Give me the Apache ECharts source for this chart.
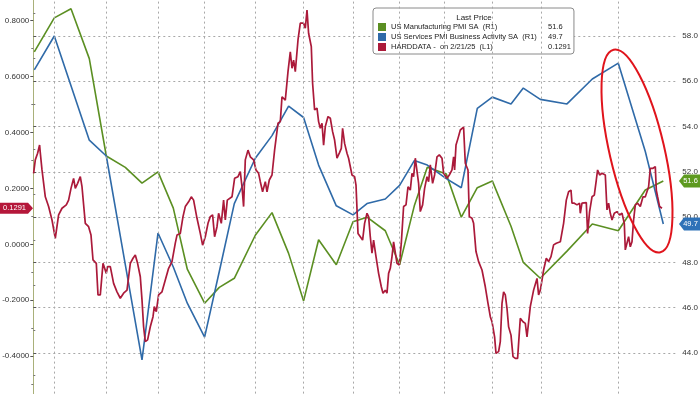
<!DOCTYPE html>
<html><head><meta charset="utf-8">
<script src="https://cdn.jsdelivr.net/npm/echarts@6.0.0/dist/echarts.min.js"></script>
<style>html,body{margin:0;padding:0;background:#fff}#c{width:700px;height:394px}</style>
</head><body><div id="c"></div>
<script>
// ---- data (x = observation index along the hidden time axis) ----
const months = ['Feb-22','Mar-22','Apr-22','May-22','Jun-22','Jul-22','Aug-22','Sep-22','Oct-22','Nov-22','Dec-22',
  'Jan-23','Feb-23','Mar-23','Apr-23','May-23','Jun-23','Jul-23','Aug-23','Sep-23','Oct-23','Nov-23','Dec-23',
  'Jan-24','Feb-24','Mar-24','Apr-24','May-24','Jun-24','Jul-24','Aug-24','Sep-24','Oct-24','Nov-24','Dec-24',
  'Jan-25','Feb-25'];
const monthObs = [1,21,37.7,56,73,92,108.7,124.7,140,154,171.3,
  186,201,222,238.7,255.3,270.3,285.3,303,319.7,333.7,352,366.3,
  381,394,413,428,444,459,477.7,490,507,533.7,559,585,
  612,630];
const mfgPMI = [57.3,58.8,59.2,57.0,52.7,52.2,51.5,52.0,50.4,47.7,46.2,
  46.9,47.3,49.2,50.2,48.4,46.3,49.0,47.9,49.8,50.0,49.4,47.9,
  50.5,52.2,51.9,50.0,51.3,51.6,49.6,48.0,47.3,48.5,49.7,49.4,
  51.2,51.6];
const svcPMI = [56.5,58.0,55.8,53.4,52.7,47.9,43.7,49.3,47.8,46.2,44.7,
  47.6,50.6,52.6,53.6,54.9,54.4,52.3,50.5,50.1,50.6,50.8,51.4,
  52.5,52.3,51.7,51.3,54.8,55.3,55.0,55.7,55.2,55.0,56.1,56.8,
  52.9,49.7];
const hardData = [[0.3,0.254],[2,0.302],[4.3,0.326],[6.3,0.355],[7,0.327],[8.7,0.266],[10.3,0.260],[12,0.170],[15.3,0.135],[18.7,0.087],[22,0.021],[25.3,0.105],[28.7,0.129],[33,0.141],[35.3,0.158],[37.7,0.200],[40.3,0.236],[42,0.200],[44.3,0.218],[47,0.242],[48.7,0.206],[52,0.075],[55.3,0.063],[57.7,0.033],[59.7,-0.056],[63,-0.068],[64.7,-0.181],[67,-0.181],[69.7,-0.068],[71,-0.062],[73,-0.104],[74.3,-0.080],[77,-0.080],[80.3,-0.140],[83.7,-0.170],[87,-0.193],[90.3,-0.175],[93.7,-0.164],[97,-0.068],[99.7,-0.050],[102,-0.038],[104.3,-0.068],[107,-0.116],[108.7,-0.199],[110.3,-0.295],[112,-0.348],[114.3,-0.342],[117,-0.295],[119.7,-0.259],[121,-0.223],[123,-0.241],[125.3,-0.181],[128.7,-0.170],[132,-0.128],[135.3,-0.086],[138.7,-0.062],[142,0.004],[143.7,0.033],[147,0.039],[149.7,0.099],[152,0.135],[155.3,0.152],[158,0.170],[160.3,0.158],[163.7,0.093],[167,0.039],[169.3,-0.003],[172,0.027],[174.7,0.075],[177,0.099],[179.3,0.105],[181.3,0.027],[183.7,0.063],[185.3,0.111],[188,0.075],[190.3,0.158],[192,0.087],[194,0.158],[196,0.152],[198.7,0.170],[201.3,0.236],[204.7,0.242],[207,0.260],[208.7,0.206],[210.3,0.135],[212,0.302],[214.7,0.337],[217,0.313],[220.3,0.302],[222.7,0.266],[225.3,0.254],[227,0.224],[229.3,0.188],[232,0.224],[233.7,0.188],[236,0.230],[238.7,0.248],[241.3,0.337],[244.7,0.433],[247,0.439],[248.7,0.528],[252,0.516],[254.7,0.618],[257,0.689],[258.7,0.630],[260.3,0.659],[262,0.618],[264.7,0.731],[267,0.791],[270.3,0.791],[272,0.773],[273.7,0.838],[275.3,0.755],[278,0.707],[279.3,0.576],[281.3,0.481],[283.7,0.487],[285.3,0.439],[287,0.415],[288.7,0.433],[290.3,0.355],[292,0.421],[294.7,0.457],[297,0.451],[299.3,0.403],[301.3,0.373],[303.7,0.308],[306,0.326],[308,0.343],[309.3,0.415],[311.3,0.361],[313.7,0.326],[315.3,0.308],[317,0.308],[318.7,0.248],[321.3,0.242],[322.7,0.212],[324.7,0.039],[327,0.027],[329.3,0.015],[331.3,0.075],[333.7,0.111],[335.3,0.099],[337,0.027],[338.7,-0.032],[340.3,0.015],[342.7,-0.044],[345.3,-0.104],[348,-0.152],[349.7,-0.175],[352,-0.164],[353.7,-0.175],[355.3,-0.104],[357,-0.086],[358.7,-0.044],[360.3,0.009],[362,0.009],[363.7,-0.068],[366,-0.074],[368,0.004],[370.3,0.135],[372.7,0.141],[374.7,0.206],[377,0.194],[378.7,0.254],[380.3,0.242],[382,0.308],[383.7,0.308],[385.3,0.218],[387,0.117],[389.3,0.141],[391.3,0.200],[393.7,0.242],[395.3,0.224],[397,0.284],[399.3,0.218],[401.3,0.248],[403.7,0.313],[406,0.320],[408.7,0.308],[410.3,0.254],[413.7,0.236],[416,0.248],[418.7,0.266],[420.3,0.313],[421.3,0.266],[422.7,0.355],[424.7,0.379],[427,0.409],[430.3,0.419],[432,0.290],[434.7,0.266],[436,0.099],[438.7,0.093],[440.3,0.075],[442.7,-0.026],[445.3,-0.062],[448.7,-0.092],[452,-0.152],[454.7,-0.211],[457,-0.259],[458.7,-0.277],[461.3,-0.331],[462.7,-0.390],[465.3,-0.384],[467,-0.348],[468.7,-0.211],[470.3,-0.170],[472,-0.181],[473.7,-0.229],[475.3,-0.295],[477.7,-0.325],[479.7,-0.402],[482,-0.408],[484.3,-0.408],[487,-0.265],[489.7,-0.277],[492,-0.283],[493.7,-0.331],[495.3,-0.336],[497,-0.223],[498.7,-0.223],[500.3,-0.164],[502,-0.157],[503.7,-0.122],[505.3,-0.181],[507,-0.164],[508.7,-0.128],[510.3,-0.092],[513,-0.050],[515.3,-0.062],[517.7,-0.044],[520.3,-0.002],[523,0.004],[527,0.009],[530.3,0.075],[533,0.158],[535.3,0.188],[537.7,0.194],[538.7,0.147],[541,0.147],[543.7,0.141],[546.3,0.147],[547,0.111],[548.7,0.147],[550.3,0.152],[553,0.149],[554.3,0.039],[556.3,0.117],[558.7,0.170],[561,0.176],[563,0.230],[564.3,0.266],[566.3,0.248],[568.7,0.254],[572,0.248],[573.7,0.123],[575.3,0.147],[577,0.111],[578.7,0.087],[581,0.111],[583.7,0.117],[586.3,0.105],[588.7,0.111],[591,0.075],[592,-0.020],[593.7,-0.014],[595.3,0.027],[597,-0.009],[598.7,0.009],[600.3,0.087],[602,0.141],[604.3,0.147],[607,0.135],[609.7,0.170],[612,0.170],[613.7,0.176],[615.3,0.206],[617,0.272],[619.7,0.272],[622,0.278],[623,0.194],[624.3,0.170],[626.3,0.135],[628.7,0.1291]];
const quarterObs = [21,73,125,171,222,270,320,366,411,459,508,585];
const obsRange = [0, 645];
const leftRange = [-0.6, 1.0], leftStep = 0.2;
const rightRange = [40, 62], rightStep = 2;
const names = ['US Manufacturing PMI SA  (R1)', 'US Services PMI Business Activity SA  (R1)', 'HARDDATA -  on 2/21/25  (L1)'];
const lastVals = ['51.6', '49.7', '0.1291'];

// ---- styling ----
const FONT = 'Liberation Sans';
const C_MFG = '#5b8f22', C_SVC = '#2f6aa8', C_HARD = '#ab1a3a';
const dotted = {type: [2, 3], color: '#a8a8a8', width: 1};

const chart = echarts.init(document.getElementById('c'), null, {renderer: 'canvas'});
const lastMap = {}; names.forEach((n, i) => lastMap[n] = lastVals[i]);

const option = {
  animation: false,
  backgroundColor: '#ffffff',
  textStyle: {fontFamily: FONT},
  grid: [
    {left: 33.3, right: 21.7, top: -35.2, bottom: -18, outerBoundsMode: 'none', containLabel: false},
    {left: 33.3, right: 21.7, top: -54.6, bottom: -49.6, outerBoundsMode: 'none', containLabel: false}
  ],
  xAxis: [
    {type: 'value', gridIndex: 0, min: obsRange[0], max: obsRange[1], show: false},
    {type: 'value', gridIndex: 1, min: obsRange[0], max: obsRange[1], show: false}
  ],
  yAxis: [
    {type: 'value', gridIndex: 0, position: 'left', min: leftRange[0], max: leftRange[1], interval: leftStep,
      axisLine: {show: true, lineStyle: {color: '#c9a0b4', width: 1}},
      axisTick: {show: true, length: 3, lineStyle: {color: '#555'}},
      minorTick: {show: true, splitNumber: 2, length: 2, lineStyle: {color: '#777'}},
      splitLine: {show: false},
      axisLabel: {margin: 4, fontSize: 8, color: '#333', fontFamily: FONT,
        showMinLabel: true, showMaxLabel: true,
        formatter: v => (Math.abs(v) < 1e-9 ? 0 : v).toFixed(4)}},
    {type: 'value', gridIndex: 1, position: 'right', min: rightRange[0], max: rightRange[1], interval: rightStep,
      axisLine: {show: true, lineStyle: {color: '#a9b07a', width: 1}},
      axisTick: {show: true, length: 3, lineStyle: {color: '#555'}},
      minorTick: {show: true, splitNumber: 2, length: 2, lineStyle: {color: '#777'}},
      splitLine: {show: true, lineStyle: dotted},
      axisLabel: {margin: 4, fontSize: 8, color: '#333', fontFamily: FONT,
        formatter: v => v.toFixed(1)}}
  ],
  legend: {
    data: names, orient: 'vertical', left: 373, top: 8,
    padding: [15, 3, 3, 5], itemGap: 2, itemWidth: 8, itemHeight: 8, icon: 'rect',
    backgroundColor: '#ffffff', borderColor: '#8a8a8a', borderWidth: 1, borderRadius: 3,
    selectedMode: false,
    textStyle: {fontSize: 7.5, fontFamily: FONT, color: '#222',
      rich: {n: {width: 157, fontSize: 7.5, fontFamily: FONT, color: '#222'},
             v: {width: 24, fontSize: 7.5, fontFamily: FONT, color: '#222'}}},
    formatter: n => '{n|' + n + '}{v|' + lastMap[n] + '}'
  },
  series: [
    {type: 'line', name: '_grid', xAxisIndex: 1, yAxisIndex: 1, data: [], silent: true, z: 1,
      markLine: {silent: true, symbol: 'none', label: {show: false}, lineStyle: dotted,
        animation: false, data: quarterObs.map(x => ({xAxis: x}))}},
    {type: 'line', name: names[0], xAxisIndex: 1, yAxisIndex: 1, z: 3,
      data: monthObs.map((x, i) => [x, mfgPMI[i]]), showSymbol: false, symbol: 'none',
      lineStyle: {color: C_MFG, width: 1.6}, itemStyle: {color: C_MFG}},
    {type: 'line', name: names[1], xAxisIndex: 1, yAxisIndex: 1, z: 3,
      data: monthObs.map((x, i) => [x, svcPMI[i]]), showSymbol: false, symbol: 'none',
      lineStyle: {color: C_SVC, width: 1.6}, itemStyle: {color: C_SVC}},
    {type: 'line', name: names[2], xAxisIndex: 0, yAxisIndex: 0, z: 4,
      data: hardData, showSymbol: false, symbol: 'none',
      lineStyle: {color: C_HARD, width: 1.7}, itemStyle: {color: C_HARD}}
  ]
};
chart.setOption(option);

// ---- value tags at the axes and the annotation ellipse ----
function tagLeft(val, txt, color) {
  const y = chart.convertToPixel({yAxisIndex: 0}, val);
  return [{type: 'polygon', z: 50, shape: {points: [[0, y - 5.5], [28, y - 5.5], [33, y], [28, y + 5.5], [0, y + 5.5]]},
      style: {fill: color}},
    {type: 'text', z: 51, x: 14.5, y: y, style: {text: txt, fill: '#fff', fontSize: 7.5, fontFamily: FONT, align: 'center', verticalAlign: 'middle'}}];
}
function tagRight(val, txt, color) {
  const y = chart.convertToPixel({yAxisIndex: 1}, val);
  return [{type: 'polygon', z: 50, shape: {points: [[679, y], [684, y - 6.5], [700, y - 6.5], [700, y + 6.5], [684, y + 6.5]]},
      style: {fill: color}},
    {type: 'text', z: 51, x: 690.5, y: y, style: {text: txt, fill: '#fff', fontSize: 7.5, fontFamily: FONT, align: 'center', verticalAlign: 'middle'}}];
}
const g = [].concat(
  tagLeft(+lastVals[2], lastVals[2], '#b5173a'),
  tagRight(+lastVals[0], lastVals[0], '#5e9a20'),
  tagRight(+lastVals[1], lastVals[1], '#2f72b8'),
  [{type: 'text', z: 60, x: 474, y: 17.7, style: {text: 'Last Price', fill: '#222', fontSize: 8, fontFamily: FONT, align: 'center', verticalAlign: 'middle'}},
   {type: 'ellipse', z: 70, x: 637, y: 151, rotation: 0.227, shape: {cx: 0, cy: 0, rx: 27.4, ry: 104},
     style: {fill: 'none', stroke: '#e0141c', lineWidth: 2}}]
);
chart.setOption({graphic: g});
</script>
</body></html>
